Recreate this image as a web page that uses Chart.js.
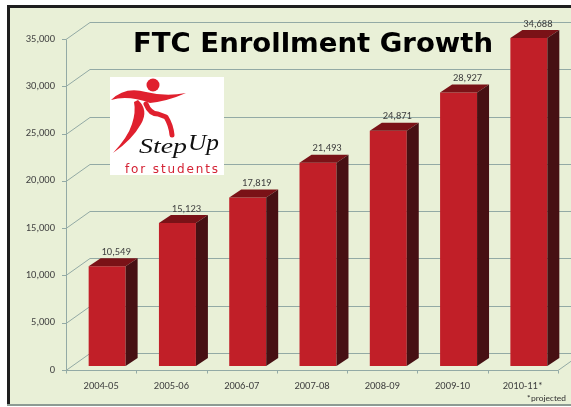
<!DOCTYPE html>
<html><head><meta charset="utf-8">
<script src="https://cdn.jsdelivr.net/npm/chart.js@4"></script>
<style>html,body{margin:0;padding:0;background:#fff;overflow:hidden;}</style>
</head><body>
<canvas id="c" width="571" height="407"></canvas>
<script>
const categories = ['2004-05','2005-06','2006-07','2007-08','2008-09','2009-10','2010-11*'];
const enrollment = [10549,15123,17819,21493,24871,28927,34688];
const yTicks = [0,5000,10000,15000,20000,25000,30000,35000];
const titleText = 'FTC Enrollment Growth';
const footnote = '*projected';
const logoWord1 = 'Step';
const logoWord2 = 'Up';
const logoTagline = 'for students';

const FONT = 'Carlito, Lato, sans-serif';
const fmt = v => Number(v).toLocaleString('en-US');

// 3D geometry offsets (relative to bar plane)
const FX = -6, FY = 4;    // front edge of floor / axis
const BX = 18, BY = -13;  // back wall
const DX = 12, DY = -8;   // bar depth

const GRID = '#93aaa5';

const deco = {
  id: 'deco',
  beforeDraw(chart) {
    const ctx = chart.ctx;
    ctx.save();
    ctx.fillStyle = '#ffffff';
    ctx.fillRect(0, 0, 571, 407);
    ctx.fillStyle = '#e9f0d7';
    ctx.fillRect(9, 7, 562, 397);
    ctx.fillStyle = '#1e1e1e';
    ctx.fillRect(7, 5, 3, 400);
    ctx.fillRect(7, 5, 564, 3);
    ctx.fillStyle = '#8d9b93';
    ctx.fillRect(7, 404, 564, 2);
    ctx.restore();
  },
  beforeDatasetsDraw(chart) {
    const ctx = chart.ctx;
    const {left, right} = chart.chartArea;
    const ys = chart.scales.y;
    const y0 = ys.getPixelForValue(0);
    const yTop = ys.getPixelForValue(yTicks[yTicks.length - 1]);
    ctx.save();
    ctx.strokeStyle = GRID;
    ctx.lineWidth = 1;
    ctx.beginPath();
    yTicks.forEach(v => {
      const p = Math.round(ys.getPixelForValue(v)) + 0.5;
      ctx.moveTo(left + FX, p + FY);
      ctx.lineTo(left + BX, p + BY);
      ctx.lineTo(571, p + BY);
      ctx.moveTo(left + FX - 4, p + FY);
      ctx.lineTo(left + FX, p + FY);
    });
    const ax = Math.round(left + FX) + 0.5;
    ctx.moveTo(ax, Math.round(y0) + FY + 0.5);
    ctx.lineTo(ax, Math.round(yTop) + FY + 0.5);
    const fy = Math.round(y0) + FY + 0.5;
    ctx.moveTo(left + FX, fy);
    ctx.lineTo(right + FX, fy);
    ctx.lineTo(right + BX, fy - (FY - BY));
    const n = categories.length;
    for (let i = 0; i <= n; i++) {
      const x = Math.round(left + FX + i * (right - left) / n) + 0.5;
      ctx.moveTo(x, fy);
      ctx.lineTo(x, fy + 3);
    }
    ctx.stroke();
    ctx.restore();
  },
  afterDatasetsDraw(chart) {
    const ctx = chart.ctx;
    const meta = chart.getDatasetMeta(0);
    ctx.save();
    meta.data.forEach((bar, i) => {
      const {x, y, base, width} = bar.getProps(['x', 'y', 'base', 'width'], true);
      const l = x - width / 2, r = x + width / 2;
      ctx.fillStyle = '#7a1217';
      ctx.beginPath();
      ctx.moveTo(l, y); ctx.lineTo(r, y); ctx.lineTo(r + DX, y + DY); ctx.lineTo(l + DX, y + DY);
      ctx.closePath(); ctx.fill();
      ctx.fillStyle = '#471013';
      ctx.beginPath();
      ctx.moveTo(r, y); ctx.lineTo(r + DX, y + DY); ctx.lineTo(r + DX, base + DY); ctx.lineTo(r, base);
      ctx.closePath(); ctx.fill();
      ctx.fillStyle = '#404040';
      ctx.font = '10.5px ' + FONT;
      ctx.textAlign = 'center';
      ctx.textBaseline = 'middle';
      ctx.fillText(fmt(enrollment[i]), x + 9, y - 14);
    });
    ctx.restore();
  },
  afterDraw(chart) {
    const ctx = chart.ctx;
    ctx.save();
    // title
    ctx.font = 'bold 27px "DejaVu Sans"';
    ctx.fillStyle = '#000';
    ctx.textBaseline = 'alphabetic';
    ctx.textAlign = 'left';
    const w = ctx.measureText(titleText).width;
    const sx = 360 / w;
    ctx.translate(133, 52);
    ctx.scale(sx, 1);
    ctx.fillText(titleText, 0, 0);
    ctx.restore();

    // logo
    ctx.save();
    ctx.fillStyle = '#ffffff';
    ctx.fillRect(110, 77, 114, 98);
    const RED = '#e0202e';
    ctx.fillStyle = RED;
    ctx.beginPath(); ctx.arc(153, 85, 6.5, 0, Math.PI * 2); ctx.fill();
    // arms swoosh
    ctx.beginPath();
    ctx.moveTo(111, 100);
    ctx.quadraticCurveTo(125, 86, 146, 92);
    ctx.quadraticCurveTo(166, 97, 186, 93);
    ctx.quadraticCurveTo(168, 101, 150, 103);
    ctx.quadraticCurveTo(128, 95, 111, 100);
    ctx.closePath(); ctx.fill();
    // back leg (crescent)
    ctx.beginPath();
    ctx.moveTo(138, 100);
    ctx.quadraticCurveTo(149, 110, 141, 124);
    ctx.quadraticCurveTo(132, 140, 113, 153);
    ctx.quadraticCurveTo(128, 137, 132, 124);
    ctx.quadraticCurveTo(136, 112, 134, 102);
    ctx.closePath(); ctx.fill();
    // front leg
    ctx.strokeStyle = RED;
    ctx.lineCap = 'round';
    ctx.lineJoin = 'round';
    ctx.lineWidth = 5;
    ctx.beginPath();
    ctx.moveTo(146, 104);
    ctx.quadraticCurveTo(150, 114, 158, 114);
    ctx.lineTo(166, 117);
    ctx.quadraticCurveTo(171, 125, 172, 135);
    ctx.stroke();
    // Step Up
    ctx.fillStyle = '#111';
    ctx.textBaseline = 'alphabetic';
    ctx.textAlign = 'left';
    ctx.font = 'italic 21px "Liberation Serif"';
    const w1 = ctx.measureText(logoWord1).width;
    ctx.save();
    ctx.translate(139, 153);
    ctx.scale(48 / w1, 1);
    ctx.fillText(logoWord1, 0, 0);
    ctx.restore();
    ctx.font = 'italic 23px "Liberation Serif"';
    const w2 = ctx.measureText(logoWord2).width;
    ctx.save();
    ctx.translate(188, 150);
    ctx.scale(31 / w2, 1);
    ctx.fillText(logoWord2, 0, 0);
    ctx.restore();
    // tagline
    ctx.fillStyle = '#d42234';
    ctx.font = '12px "DejaVu Sans"';
    const tw = ctx.measureText(logoTagline).width;
    const ls = (93 - tw) / (logoTagline.length - 1);
    let cx = 125;
    ctx.textBaseline = 'middle';
    for (const ch of logoTagline) {
      ctx.fillText(ch, cx, 170);
      cx += ctx.measureText(ch).width + ls;
    }
    ctx.restore();

    // footnote
    ctx.save();
    ctx.fillStyle = '#333';
    ctx.font = '9px ' + FONT;
    ctx.textAlign = 'right';
    ctx.textBaseline = 'middle';
    ctx.fillText(footnote, 566, 399);
    ctx.restore();
  }
};

new Chart(document.getElementById('c'), {
  type: 'bar',
  data: {
    labels: categories,
    datasets: [{
      data: enrollment,
      backgroundColor: '#c11f28',
      borderWidth: 0,
      barPercentage: 0.526,
      categoryPercentage: 1
    }]
  },
  options: {
    responsive: false,
    animation: false,
    devicePixelRatio: 1,
    layout: {padding: {left: 10, right: 7, top: 35, bottom: 11}},
    plugins: {legend: {display: false}, title: {display: false}, tooltip: {enabled: false}},
    scales: {
      x: {
        grid: {display: false, drawTicks: false},
        border: {display: false},
        ticks: {font: {family: FONT, size: 10.5}, color: '#404040', padding: 14, labelOffset: -6, maxRotation: 0, autoSkip: false},
        afterFit(s) { s.height = 30; }
      },
      y: {
        min: 0, max: 35000,
        grid: {display: false, drawTicks: false},
        border: {display: false},
        afterBuildTicks(s) { s.ticks = yTicks.map(v => ({value: v})); },
        ticks: {font: {family: FONT, size: 10.5}, color: '#404040', padding: 17, labelOffset: 4, callback: v => fmt(v)},
        afterFit(s) { s.width = 62; }
      }
    }
  },
  plugins: [deco]
});
</script>
</body></html>
